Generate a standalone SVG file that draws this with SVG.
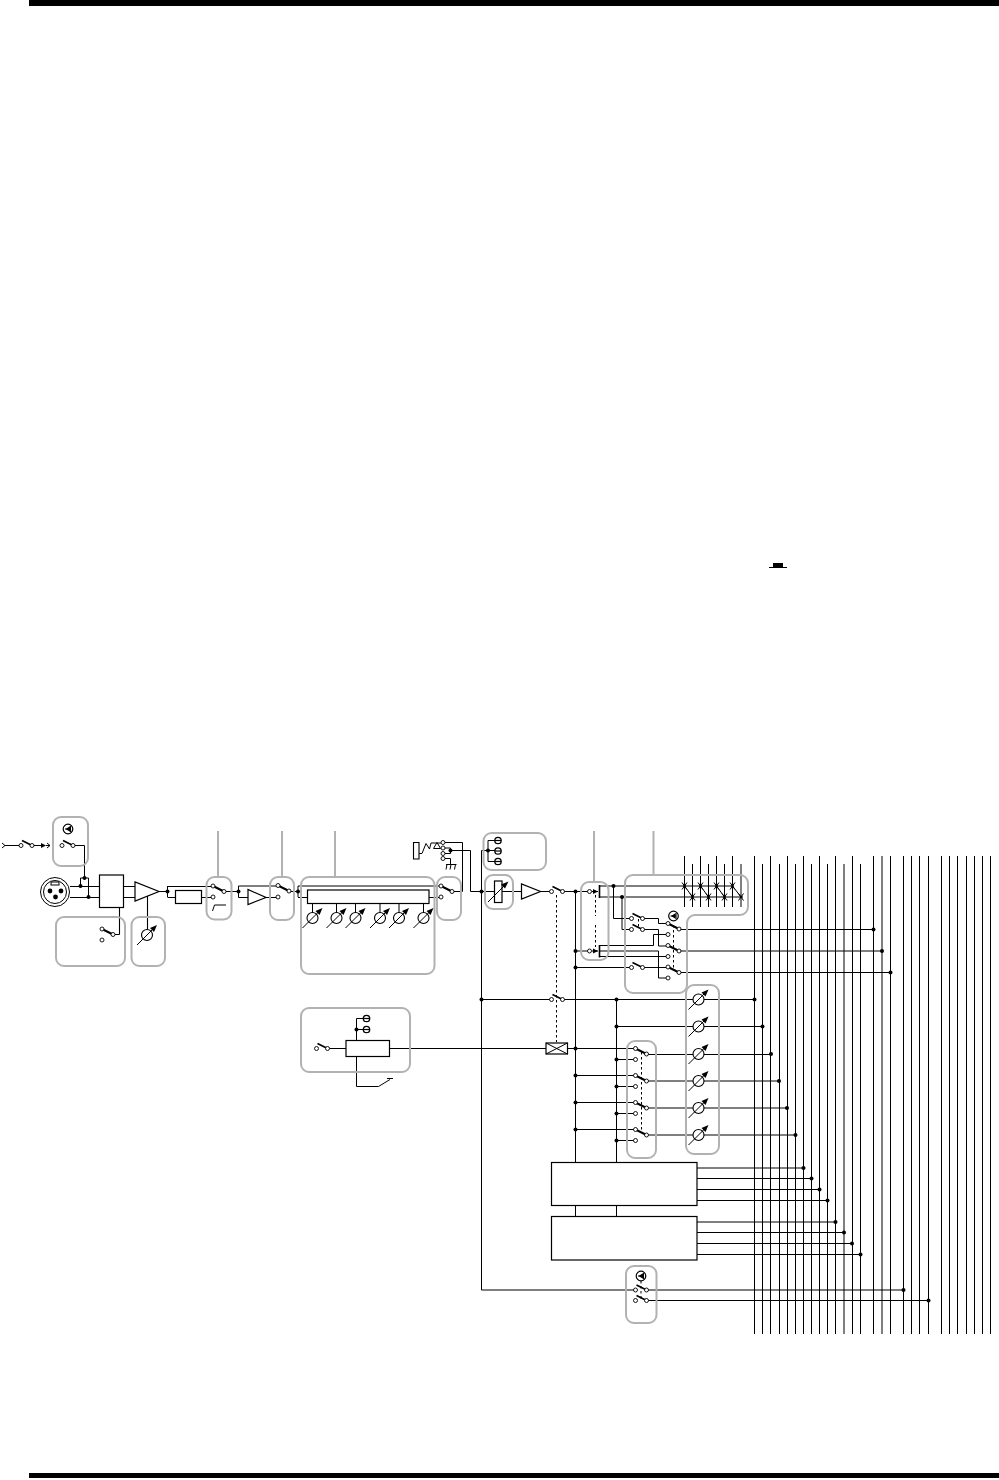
<svg xmlns="http://www.w3.org/2000/svg" width="999" height="1480" viewBox="0 0 999 1480">
<style>
.w{fill:none;stroke:#000;stroke-width:1}
.t{fill:none;stroke:#000;stroke-width:1.1}
.b{fill:#fff;stroke:#000;stroke-width:1.2}
.g{fill:none;stroke:#b2b2b2;stroke-width:2}
.d{fill:none;stroke:#000;stroke-width:1;stroke-dasharray:2.5 2.5}
.c{fill:#fff;stroke:#000;stroke-width:.9}
</style>
<defs>
<circle id="dot" r="2" fill="#000"/>
<g id="swa"><path d="M1,-5 L10,-.5" fill="none" stroke="#000" stroke-width="1.6"/><circle class="c" r="2"/><circle class="c" cx="11" r="2"/></g>
<g id="swb"><path d="M0,0 L11,5.5" fill="none" stroke="#000" stroke-width="2"/><circle class="c" r="2"/><circle class="c" cx="11" cy="5.5" r="2"/></g>
<g id="pot"><circle r="5.5" fill="#fff" stroke="#000" stroke-width="1.1"/><path d="M-10,10 L8,-8" fill="none" stroke="#000" stroke-width="1"/><path d="M10,-10 L3,-7 L7,-3 Z" fill="#000"/></g>
<g id="led"><circle r="4.8" fill="#fff" stroke="#000" stroke-width="1.2"/><path d="M-3,0 H3M2.5,-3 V3" stroke="#000" stroke-width="1.1"/><path d="M-2.5,0 L2,-2.8 V2.8 Z" fill="#000"/></g>
<g id="ledm"><circle r="3.2" fill="#fff" stroke="#000" stroke-width="1.3"/><path d="M-3,0 H3" stroke="#000" stroke-width="1.2"/></g>
<g id="xm"><path d="M-2.5,-3.5 L2.5,3.5 M2.5,-3.5 L-2.5,3.5" fill="none" stroke="#000" stroke-width="1"/><circle r="1.3" fill="#000"/></g>
</defs>

<g id="page-bars">
<rect x="29" y="0" width="970" height="6" fill="#000"/>
<rect x="29" y="1473" width="970" height="5" fill="#000"/>
<path d="M769,567.5 H787 M773,565 H783" fill="none" stroke="#000" stroke-width="1"/>
<rect x="773" y="563" width="10" height="4" fill="#000"/>
</g>

<g id="connectors">
<!-- output bus verticals -->
<path class="w" d="M684.5,856V907M700.5,856V907M716.5,856V907M732.5,856V907M692.5,864V907M708.5,864V907M724.5,864V907M741,864V907"/>
<path class="w" d="M754.5,856V1334M770.5,856V1334M787.5,856V1334M803.5,856V1334M819.5,856V1334M835.5,856V1334M852.5,856V1334M873.5,856V1334M882,856V1334M890.5,856V1334M903.5,856V1334M911.5,856V1334M919.5,856V1334M928.5,856V1334M941.5,856V1334M949.5,856V1334M957.5,856V1334M966.5,856V1334M974.5,856V1334M982.5,856V1334M990.5,856V1334"/>
<path class="w" d="M762.5,864V1334M779.5,864V1334M795.5,864V1334M811.5,864V1334M827.5,864V1334M844,864V1334M860.5,864V1334"/>
<!-- insert input -->
<path class="w" d="M5,845.5H21M32,845.5H42M46,845.5H50M73,845.5H84.5V878M80.5,886V878H88.5V897"/>
<path class="t" d="M70,886.5H99M70,897.5H99M123,886.5H135M123,897.5H135M119.5,934.5V907.5M113,934.5H119.5M147.5,896V930"/>
<path class="w" d="M159,891.5H167.5M167.5,886V897M167.5,886.5H213M167.5,897.5H175M201,897.5H213M224,891.5H238.5M238.5,886V897.5M238.5,886H278M238.5,897.5H248M266,897.5H278M289,891.5H298M298,886V897M298,886H440M298,897.5H307.5M429,897.5H440.5M452,891.5H462.5V842.5H443"/>
<path class="w" d="M312.5,903.5V913M336.5,903.5V913M355.5,903.5V913M380,903.5V913M399,903.5V913M423.5,903.5V913"/>
<!-- jack -->
<path class="w" d="M419,853.5 H422 L426,843.5 L429.5,849 L431,843 H441"/>
<path d="M437,842.5 L433.5,848.5H440.5Z" fill="#fff" stroke="#000" stroke-width="1"/>
<path class="w" d="M441,848H450.5V853.5H441M450.5,850.5H470.5V891.5H521.5M441,858.5H450.5V864M446,864.5H456.5M447,864.5L446,869.5M451,864.5L450,869.5M455.5,864.5L454.5,869.5"/>
<path class="t" d="M413.5,842.5H419V859H413.5Z"/>
<!-- main channel -->
<path class="w" d="M481.5,850.5V1290M481.5,850.5H495M488,840.5V861.5M488,840.5H495M488,861.5H495"/>
<path class="w" d="M540.5,891.5H551M562,891.5H589.5M575.5,891.5V1162M592,891.5H598"/>
<path class="w" d="M575.5,951H589.5M592,951H598M575.5,967.5H631.5M643,967.5H668"/>
<path d="M599.5,885V898M599.5,945V957.5" fill="none" stroke="#000" stroke-width="1.6"/>
<path class="t" d="M599,886H733M599,897H743"/>
<path class="w" d="M613.5,886V918.5H631.5M622,897V929.5H631.5M643,918.5H658.5V923.5H668M643,929.5H658.5V946H668M668,934.5H653.5V945.5H599.5M599.5,956.5H668M599.5,951H658.5V978H668"/>
<path class="w" d="M684.5,886L692.5,897M700.5,886L708.5,897M716.5,886L724.5,897M732.5,886L741,897" stroke-width=".7"/>
<path class="w" d="M679,929.5H873.5M679,951H882M679,972.5H890.5"/>
<!-- aux buses -->
<path class="w" d="M481.5,999.5H551M562.5,999.5H754.5M616.5,999.5V1162M616.5,1026.5H762.5M616.5,1205V1216.5M575.5,1205V1216.5"/>
<path class="w" d="M575.5,1048.5H635.5M575.5,1075.5H635.5M575.5,1102.5H635.5M575.5,1129.5H635.5M616.5,1059.5H635.5M616.5,1086.5H635.5M616.5,1113.5H635.5M616.5,1140.5H635.5"/>
<path class="w" d="M646.5,1054.5H771M646.5,1081H779M646.5,1108H787M646.5,1135H795.5"/>
<path class="w" d="M327.5,1048.5H346M389.5,1048.5H546M567.5,1048.5H575.5M356.5,1040V1018.5H363M356.5,1029.5H363M356.5,1057V1086.5H378.5L390,1079.5M387,1078.5H393"/>
<!-- dsp outputs -->
<path class="w" d="M697,1168H803.5M697,1178.5H811.5M697,1189.5H819.5M697,1200.5H827.5M697,1222H835.5M697,1232.5H844M697,1243.5H852M697,1254.5H860.5"/>
<path class="t" d="M481.5,1290H635.5M646.5,1290H903.5M646.5,1300.5H928.5"/>
<!-- dashed ganging -->
<path class="d" d="M556.5,895V1042M595.5,895V916M595.5,925V947M638.5,919V928M673.5,925V970M641.5,1052V1130M641,1281V1300"/>
<!-- junction dots -->
<g>
<use href="#dot" x="84.5" y="878"/><use href="#dot" x="80.5" y="886"/><use href="#dot" x="88.5" y="897"/>
<use href="#dot" x="167.5" y="891.5"/><use href="#dot" x="238.5" y="891.5"/><use href="#dot" x="298" y="891.5"/>
<use href="#dot" x="450.5" y="850.5"/><use href="#dot" x="481.5" y="891.5"/><use href="#dot" x="488" y="850.5"/>
<use href="#dot" x="575.5" y="891.5"/><use href="#dot" x="575.5" y="951"/><use href="#dot" x="575.5" y="967.5"/>
<use href="#dot" x="613.5" y="886"/><use href="#dot" x="622" y="897"/>
<use href="#dot" x="873.5" y="929.5"/><use href="#dot" x="882" y="951"/><use href="#dot" x="890.5" y="972.5"/>
<use href="#dot" x="481.5" y="999.5"/><use href="#dot" x="616.5" y="999.5"/><use href="#dot" x="616.5" y="1026.5"/>
<use href="#dot" x="754.5" y="999.5"/><use href="#dot" x="762.5" y="1026.5"/><use href="#dot" x="771" y="1054"/>
<use href="#dot" x="779" y="1081"/><use href="#dot" x="787" y="1108"/><use href="#dot" x="795.5" y="1135"/>
<use href="#dot" x="575.5" y="1048.5"/><use href="#dot" x="575.5" y="1075.5"/><use href="#dot" x="575.5" y="1102.5"/><use href="#dot" x="575.5" y="1129.5"/>
<use href="#dot" x="616.5" y="1059.5"/><use href="#dot" x="616.5" y="1086.5"/><use href="#dot" x="616.5" y="1113.5"/><use href="#dot" x="616.5" y="1140.5"/>
<use href="#dot" x="803.5" y="1168"/><use href="#dot" x="811.5" y="1178.5"/><use href="#dot" x="819.5" y="1189.5"/><use href="#dot" x="827.5" y="1200.5"/>
<use href="#dot" x="835.5" y="1222"/><use href="#dot" x="844" y="1232.5"/><use href="#dot" x="852" y="1243.5"/><use href="#dot" x="860.5" y="1254.5"/>
<use href="#dot" x="903.5" y="1290"/><use href="#dot" x="928.5" y="1300.5"/><use href="#dot" x="356.5" y="1029.5"/>
</g>
<!-- arrowheads -->
<path d="M46,845.5L41,843V848ZM598,891.5L593,889V894ZM598,951L593,948.5V953.5Z" fill="#000"/>
<path class="w" d="M2,843L5,845.5L2,848M47,843L50,845.5L47,848"/>
</g>

<!-- gray outlines -->
<g id="groups">
<rect class="g" x="53" y="817" width="35" height="49" rx="8"/>
<rect class="g" x="56" y="917" width="69" height="49" rx="8"/>
<rect class="g" x="131.5" y="917" width="33.5" height="49" rx="8"/>
<rect class="g" x="206.5" y="877" width="25" height="42.5" rx="8"/>
<rect class="g" x="270" y="877" width="24" height="43" rx="8"/>
<rect class="g" x="301" y="877" width="133.5" height="97" rx="8"/>
<rect class="g" x="437" y="877" width="24" height="43" rx="8"/>
<rect class="g" x="483.5" y="833" width="62.5" height="37" rx="8"/>
<rect class="g" x="485" y="875" width="28" height="34" rx="8"/>
<rect class="g" x="581" y="882" width="27.5" height="78" rx="8"/>
<path class="g" d="M633,875H740a8,8 0 0 1 8,8V907a8,8 0 0 1 -8,8H695a8,8 0 0 0 -8,8V985a8,8 0 0 1 -8,8H633a8,8 0 0 1 -8,-8V883a8,8 0 0 1 8,-8Z"/>
<rect class="g" x="301" y="1008" width="109" height="64" rx="8"/>
<rect class="g" x="627" y="1041" width="29" height="117" rx="8"/>
<rect class="g" x="686" y="985" width="33" height="169" rx="8"/>
<rect class="g" x="626" y="1266" width="30.5" height="57" rx="8"/>
<path class="g" d="M218,831V877M282,831V877M335,831V877M594,831V882M653.5,831V875"/>
</g>

<g id="node-insert"><use href="#swa" x="21" y="845.5"/><use href="#swa" x="62" y="845.5"/><use href="#led" x="68" y="829"/></g>
<g id="node-xlr">
<circle cx="55" cy="892" r="14.5" fill="#fff" stroke="#000" stroke-width="1"/>
<circle cx="55" cy="892" r="11.5" fill="#fff" stroke="#000" stroke-width="1"/>
<rect x="51" y="882" width="8" height="3" fill="#fff" stroke="#000" stroke-width="1"/>
<circle cx="50" cy="891" r="2.4" fill="#000"/><circle cx="61" cy="891" r="2.4" fill="#000"/><circle cx="55.5" cy="897" r="2.4" fill="#000"/>
</g>
<g id="node-pad"><rect class="b" x="99.5" y="875" width="24" height="32.5"/></g>
<g id="node-pad-switch"><use href="#swb" x="102" y="929"/><circle class="c" cx="102" cy="940" r="2"/></g>
<g id="node-preamp"><path class="b" d="M135,882V901L159,891.5Z"/></g>
<g id="node-gain"><use href="#pot" x="147" y="935"/></g>
<g id="node-hpf-box"><rect class="b" x="175.5" y="890.5" width="26" height="13"/></g>
<g id="node-hpf-switch"><use href="#swb" x="213" y="886"/><circle class="c" cx="213" cy="897" r="2"/><path class="w" d="M212.5,911L214.5,905H226"/></g>
<g id="node-amp2"><path class="b" d="M248,889.5V904.5L266,897.5Z"/></g>
<g id="node-sw2"><use href="#swb" x="278" y="885.5"/><circle class="c" cx="278" cy="897" r="2"/></g>
<g id="node-eq">
<rect class="b" x="307.5" y="890" width="121.5" height="13.5"/>
<use href="#pot" x="312.5" y="918"/><use href="#pot" x="336.5" y="918"/><use href="#pot" x="355.5" y="918"/><use href="#pot" x="380" y="918"/><use href="#pot" x="399" y="918"/><use href="#pot" x="423.5" y="918"/>
</g>
<g id="node-eq-switch"><use href="#swb" x="441" y="886"/><circle class="c" cx="441" cy="897" r="2"/></g>
<g id="node-jack"><circle class="c" cx="443" cy="842.5" r="2"/><circle class="c" cx="443" cy="848" r="2"/><circle class="c" cx="443" cy="853.5" r="2"/><circle class="c" cx="443" cy="858.5" r="2"/></g>
<g id="node-leds"><use href="#ledm" x="498" y="840.5"/><use href="#ledm" x="498" y="851"/><use href="#ledm" x="498" y="861.5"/></g>
<g id="node-fader"><rect class="b" x="494.5" y="881" width="7.5" height="21.5"/><path class="w" d="M488,902L507,883"/><path d="M508.5,881.5L501,884.5L505,888.5Z" fill="#000"/></g>
<g id="node-amp3"><path class="b" d="M521.5,884V899L540.5,891.5Z"/></g>
<g id="node-mute"><use href="#swa" x="551.5" y="891.5"/></g>
<g id="node-pfl-top"><circle class="c" cx="589.5" cy="891.5" r="2"/><circle class="c" cx="589.5" cy="951" r="2"/></g>
<g id="node-assign">
<use href="#swa" x="631.5" y="918.5"/><use href="#swa" x="631.5" y="929.5"/><use href="#swa" x="631.5" y="967.5"/>
<use href="#led" x="673.5" y="916"/>
<use href="#swb" x="668" y="923.5"/><use href="#swb" x="668" y="945.5"/><use href="#swb" x="668" y="967"/>
<circle class="c" cx="668" cy="934.5" r="2"/><circle class="c" cx="668" cy="956.5" r="2"/><circle class="c" cx="668" cy="978" r="2"/>
</g>
<g id="node-crosspoints">
<use href="#xm" x="684.5" y="886"/><use href="#xm" x="700.5" y="886"/><use href="#xm" x="716.5" y="886"/><use href="#xm" x="732.5" y="886"/>
<use href="#xm" x="692.5" y="897"/><use href="#xm" x="708.5" y="897"/><use href="#xm" x="724.5" y="897"/><use href="#xm" x="741" y="897"/>
</g>
<g id="node-sw-pfl"><use href="#swa" x="551.5" y="999.5"/></g>
<g id="node-vca"><rect class="b" x="546" y="1043" width="21.5" height="11"/><path class="w" d="M546,1043L567.5,1054M567.5,1043L546,1054"/></g>
<g id="node-aux-pots">
<use href="#pot" x="698.5" y="999.5"/><use href="#pot" x="698.5" y="1026.5"/><use href="#pot" x="698.5" y="1054"/><use href="#pot" x="698.5" y="1081"/><use href="#pot" x="698.5" y="1108"/><use href="#pot" x="698.5" y="1135"/>
</g>
<g id="node-aux-switches">
<use href="#swb" x="635.5" y="1048.5"/><use href="#swb" x="635.5" y="1075.5"/><use href="#swb" x="635.5" y="1102.5"/><use href="#swb" x="635.5" y="1129.5"/>
<circle class="c" cx="635.5" cy="1059.5" r="2"/><circle class="c" cx="635.5" cy="1086.5" r="2"/><circle class="c" cx="635.5" cy="1113.5" r="2"/><circle class="c" cx="635.5" cy="1140.5" r="2"/>
</g>
<g id="node-comp">
<rect class="b" x="346" y="1040.5" width="43.5" height="16"/>
<use href="#swa" x="316.5" y="1048.5"/><use href="#ledm" x="366.5" y="1018.5"/><use href="#ledm" x="366.5" y="1029.5"/>
</g>
<g id="node-dsp1"><rect class="b" x="551.5" y="1162.5" width="145.5" height="43"/></g>
<g id="node-dsp2"><rect class="b" x="551.5" y="1216.5" width="145.5" height="43.5"/></g>
<g id="node-main-switch"><use href="#led" x="641" y="1276"/><use href="#swa" x="635.5" y="1290"/><use href="#swa" x="635.5" y="1300.5"/></g>
</svg>
